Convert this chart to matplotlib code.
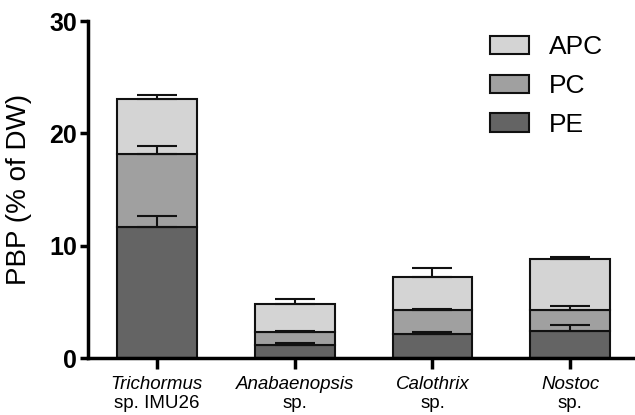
import numpy as np
import matplotlib.pyplot as plt
from matplotlib.transforms import blended_transform_factory

plt.rcParams['font.family'] = ['Liberation Sans', 'DejaVu Sans']

# strains: genus (italic) and second line
genus = ['Trichormus', 'Anabaenopsis', 'Calothrix', 'Nostoc']
suffix = ['sp. IMU26', 'sp.', 'sp.', 'sp.']

# % of dry weight
pe = [11.7, 1.18, 2.1, 2.37]
pc = [6.5, 1.13, 2.2, 1.87]
apc = [4.9, 2.5, 2.94, 4.6]
pe_err = [0.9, 0.16, 0.18, 0.53]
pc_err = [0.7, 0.12, 0.09, 0.36]
apc_err = [0.35, 0.47, 0.8, 0.18]

x = np.arange(len(genus))
pe = np.array(pe)
pc = np.array(pc)
apc = np.array(apc)

fig = plt.figure(figsize=(6.35, 4.15), dpi=100)
ax = fig.add_axes([88/635, 57/415, 1 - 88/635, 337/415])

w = 0.58
ekw = dict(ecolor='#111111', elinewidth=1.5, capthick=1.5)
ax.bar(x, pe, w, color='#646464', edgecolor='#111111', linewidth=1.5, label='PE', zorder=2)
ax.bar(x, pc, w, bottom=pe, color='#a0a0a0', edgecolor='#111111', linewidth=1.5, label='PC', zorder=2)
ax.bar(x, apc, w, bottom=pe + pc, color='#d4d4d4', edgecolor='#111111', linewidth=1.5, label='APC', zorder=2)

# upward-only error bars
ax.errorbar(x, pe, yerr=[np.zeros(4), pe_err], fmt='none', capsize=14.4, zorder=3, **ekw)
ax.errorbar(x, pe + pc, yerr=[np.zeros(4), pc_err], fmt='none', capsize=14.4, zorder=3, **ekw)
ax.errorbar(x, pe + pc + apc, yerr=[np.zeros(4), apc_err], fmt='none', capsize=14.4, zorder=3, **ekw)

ax.set_xlim(-0.5, 3.47)
ax.set_ylim(0, 30)
ax.set_yticks([0, 10, 20, 30])
ax.set_yticklabels(['0', '10', '20', '30'], fontsize=18, fontweight='bold')
ax.set_xticks(x)
ax.set_xticklabels([''] * 4)
ax.set_ylabel('PBP (% of DW)', fontsize=20)
ax.yaxis.set_label_coords(-0.102, 0.5)

# two-line category labels
tr = blended_transform_factory(ax.transData, fig.transFigure)
for xi, g, s in zip(x, genus, suffix):
    ax.text(xi, 26/415, g, transform=tr, ha='center', va='baseline', fontsize=13.5, style='italic')
    ax.text(xi, 7/415, s, transform=tr, ha='center', va='baseline', fontsize=13.5)

for s in ['top', 'right']:
    ax.spines[s].set_visible(False)
for s in ['left', 'bottom']:
    ax.spines[s].set_linewidth(2.5)
ax.tick_params(axis='y', width=2.5, length=6, pad=2)
ax.tick_params(axis='x', width=2.5, length=8, pad=4)

h, l = ax.get_legend_handles_labels()
ax.legend(h[::-1], l[::-1], loc='upper left', bbox_to_anchor=(472/635, 1 - 17/415),
          bbox_transform=fig.transFigure, frameon=False,
          fontsize=19, handlelength=1.45, handleheight=0.7, labelspacing=0.55, handletextpad=0.75,
          borderaxespad=0.3)

fig.savefig('out.png', dpi=100)
